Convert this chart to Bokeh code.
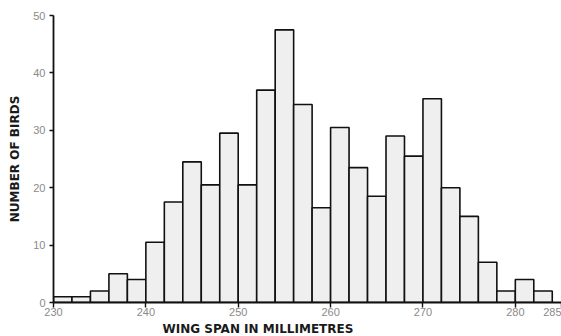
from bokeh.plotting import figure
from bokeh.models import FixedTicker, Range1d, Title
from bokeh.embed import file_html
from bokeh.resources import INLINE

# Histogram of wing spans (bins are 2 mm wide)
bin_left = [230, 232, 234, 236, 238, 240, 242, 244, 246, 248, 250, 252, 254, 256,
            258, 260, 262, 264, 266, 268, 270, 272, 274, 276, 278, 280, 282]
bin_right = [232, 234, 236, 238, 240, 242, 244, 246, 248, 250, 252, 254, 256, 258,
             260, 262, 264, 266, 268, 270, 272, 274, 276, 278, 280, 282, 284]
counts = [1, 1, 2, 5, 4, 10.5, 17.5, 24.5, 20.5, 29.5, 20.5, 37, 47.5, 34.5,
          16.5, 30.5, 23.5, 18.5, 29, 25.5, 35.5, 20, 15, 7, 2, 4, 2]
zeros = [0] * len(counts)

x_ticks = [230, 240, 250, 260, 270, 280, 285]
y_ticks = [0, 10, 20, 30, 40, 50]

p = figure(width=561, height=336, output_backend="svg", toolbar_location=None,
           x_range=Range1d(230, 285), y_range=Range1d(0, 50),
           min_border_left=53, min_border_right=0, min_border_top=15,
           min_border_bottom=34)

p.quad(left=bin_left, right=bin_right, top=counts, bottom=zeros,
       fill_color="#efefef", line_color="#111111", line_width=1.6)

p.xgrid.grid_line_color = None
p.ygrid.grid_line_color = None
p.outline_line_color = None
p.background_fill_color = "white"
p.border_fill_color = "white"

for ax in (p.xaxis[0], p.yaxis[0]):
    ax.axis_line_color = "#111111"
    ax.axis_line_width = 1.8
    ax.major_tick_line_color = "#111111"
    ax.major_tick_line_width = 1.4
    ax.major_tick_in = 0
    ax.minor_tick_line_color = None
    ax.major_label_text_color = "#8a8a8a"
    ax.major_label_text_font = "Liberation Sans"
    ax.major_label_text_font_size = "11px"
    ax.axis_label_text_font = "DejaVu Sans"
    ax.axis_label_text_font_style = "bold"
    ax.axis_label_text_font_size = "12px"
    ax.axis_label_text_color = "#1a1a1a"

p.xaxis.ticker = FixedTicker(ticks=x_ticks)
p.yaxis.ticker = FixedTicker(ticks=y_ticks)
p.xaxis.major_tick_out = 5
p.yaxis.major_tick_out = 4
p.xaxis.major_label_standoff = 0
p.yaxis.major_label_standoff = 4
p.yaxis.axis_label = "NUMBER OF BIRDS"
p.yaxis.axis_label_standoff = 8

# x-axis caption, set off-centre as in the original figure
xcap = Title(text="WING SPAN IN MILLIMETRES", align="left", offset=109,
             text_font="DejaVu Sans", text_font_style="bold",
             text_font_size="12px", text_color="#1a1a1a", standoff=2)
p.add_layout(xcap, "below")

open("out.html", "w").write(file_html(p, INLINE))
